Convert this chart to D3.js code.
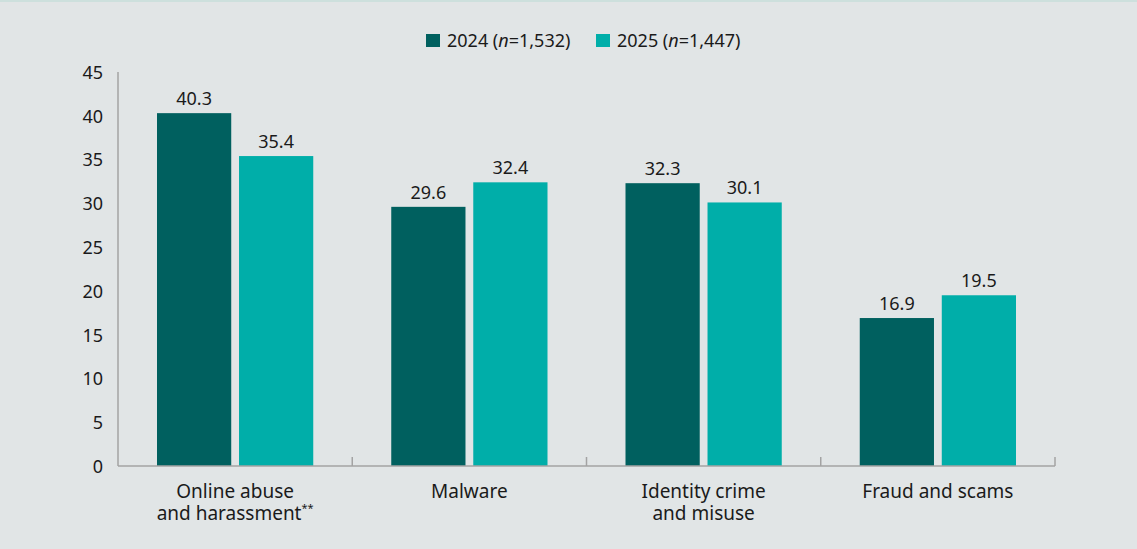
<!DOCTYPE html>
<html>
<head>
<meta charset="utf-8">
<script src="https://cdn.jsdelivr.net/npm/d3@7"></script>
<style>
  html, body { margin: 0; padding: 0; background: #e1e5e6; }
  svg { display: block; font-family: "Noto Sans", "Open Sans", sans-serif; }
</style>
</head>
<body>
<svg id="chart"></svg>
<script>
// chart data
const categories = [["Online abuse", "and harassment"], ["Malware"], ["Identity crime", "and misuse"], ["Fraud and scams"]];
const seriesNames = ["2024", "2025"];
const seriesN = ["1,532", "1,447"];
const values2024 = [40.3, 29.6, 32.3, 16.9];
const values2025 = [35.4, 32.4, 30.1, 19.5];
const yTicks = [0, 5, 10, 15, 20, 25, 30, 35, 40, 45];
const colors = ["#00605f", "#00aea9"];

const canvasWidth = 1137;
const canvasHeight = 549;
const plotLeft = 118, plotRight = 1055, plotTop = 72, plotBottom = 466;

let svg = d3.select("#chart")
  .attr("width", canvasWidth)
  .attr("height", canvasHeight);

svg.append("rect")
  .attr("width", canvasWidth).attr("height", canvasHeight)
  .attr("fill", "#e1e5e6");
svg.append("rect")
  .attr("width", canvasWidth).attr("height", 2)
  .attr("fill", "#cde0dd");

let catKeys = categories.map((d) => d.join(" "));

let x0 = d3.scaleBand()
  .domain(catKeys)
  .range([plotLeft, plotRight]);

let x1 = d3.scaleBand()
  .domain(seriesNames)
  .range([39, x0.bandwidth() - 39])
  .paddingInner(0.095);

let y = d3.scaleLinear()
  .domain([0, 45])
  .range([plotBottom, plotTop]);

// rows of data for drawing
let rows = [];
catKeys.forEach((c, i) => {
  rows.push({cat: c, s: seriesNames[0], v: values2024[i], col: colors[0]});
  rows.push({cat: c, s: seriesNames[1], v: values2025[i], col: colors[1]});
});

svg.selectAll(".bar")
  .data(rows).enter()
  .append("rect")
  .attr("class", "bar")
  .attr("x", (d) => x0(d.cat) + x1(d.s))
  .attr("y", (d) => y(d.v))
  .attr("width", x1.bandwidth())
  .attr("height", (d) => y(0) - y(d.v))
  .attr("fill", (d) => d.col);

svg.selectAll(".val")
  .data(rows).enter()
  .append("text")
  .attr("class", "val")
  .attr("x", (d) => x0(d.cat) + x1(d.s) + x1.bandwidth() / 2)
  .attr("y", (d) => y(d.v) - 8)
  .attr("text-anchor", "middle")
  .attr("font-size", 18)
  .attr("fill", "#1a1a1a")
  .text((d) => d.v.toFixed(1));

// y axis
svg.append("line")
  .attr("x1", plotLeft).attr("x2", plotLeft)
  .attr("y1", y(45)).attr("y2", y(0))
  .attr("stroke", "#a3a3a3").attr("stroke-width", 1.5);

svg.selectAll(".ytick")
  .data(yTicks).enter()
  .append("text")
  .attr("class", "ytick")
  .attr("x", 103)
  .attr("y", (d) => y(d))
  .attr("dy", "0.38em")
  .attr("text-anchor", "end")
  .attr("font-size", 18)
  .attr("fill", "#1a1a1a")
  .text((d) => d);

// x axis
svg.append("line")
  .attr("x1", plotLeft).attr("x2", plotRight)
  .attr("y1", y(0)).attr("y2", y(0))
  .attr("stroke", "#a3a3a3").attr("stroke-width", 1.5);

let boundaries = catKeys.map((c) => x0(c) + x0.bandwidth());
svg.selectAll(".xtick")
  .data(boundaries).enter()
  .append("line")
  .attr("class", "xtick")
  .attr("x1", (d) => d).attr("x2", (d) => d)
  .attr("y1", y(0)).attr("y2", y(0) - 9)
  .attr("stroke", "#a3a3a3").attr("stroke-width", 1.5);

let catLabels = svg.selectAll(".cat")
  .data(categories).enter()
  .append("text")
  .attr("class", "cat")
  .attr("text-anchor", "middle")
  .attr("font-size", 19)
  .attr("fill", "#1a1a1a");

catLabels.each(function(lines, i) {
  let t = d3.select(this);
  let cx = x0(catKeys[i]) + x0.bandwidth() / 2;
  lines.forEach((line, j) => {
    t.append("tspan")
      .attr("x", cx)
      .attr("y", 498 + j * 22)
      .text(line);
    if (i === 0 && j === 1) {
      t.append("tspan")
        .attr("font-size", 11)
        .attr("dy", -8)
        .text("**");
    }
  });
});

// legend
let legendX = [426, 596];
seriesNames.forEach((s, i) => {
  svg.append("rect")
    .attr("x", legendX[i]).attr("y", 34)
    .attr("width", 14).attr("height", 13)
    .attr("fill", colors[i]);
  let t = svg.append("text")
    .attr("x", legendX[i] + 21).attr("y", 47)
    .attr("font-size", 18)
    .attr("fill", "#1a1a1a");
  t.append("tspan").text(s + " (");
  t.append("tspan").attr("font-style", "italic").text("n");
  t.append("tspan").text("=" + seriesN[i] + ")");
});
</script>
</body>
</html>
